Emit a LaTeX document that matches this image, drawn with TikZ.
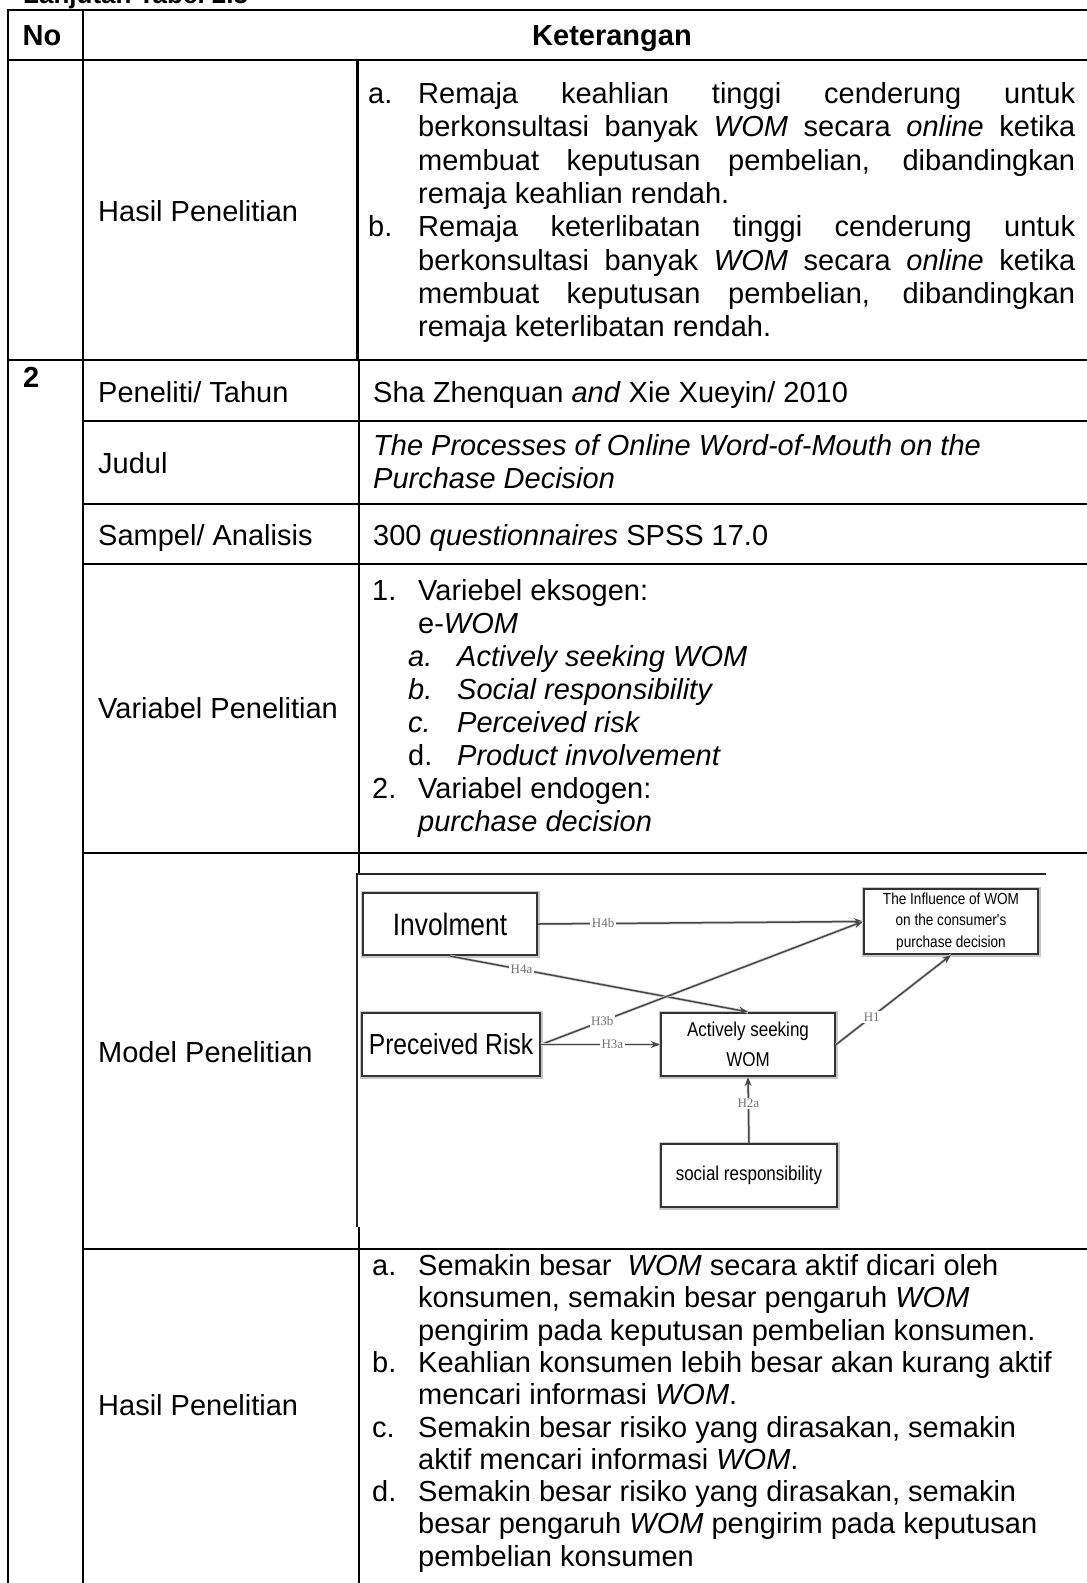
\documentclass[tikz,border=0pt]{standalone}
\usepackage{fontspec}
\setmainfont{Liberation Sans}
\newfontfamily\narrowfont[FakeStretch=0.85]{Liberation Sans}
\newfontfamily\hlabelfont{Liberation Serif}
\usetikzlibrary{arrows.meta}

\tikzset{
  grid/.style={line width=2.6pt, black},
  thinframe/.style={line width=1.3pt, black!85},
  txt/.style={anchor=base west, inner sep=0pt, font=\fontsize{29}{33}\selectfont},
  hd/.style={anchor=base, inner sep=0pt, font=\fontsize{29}{33}\selectfont\bfseries},
  mbox/.style={draw=black!80, line width=2.2pt, fill=white, inner sep=0pt, align=center,
               preaction={draw=black!22, line width=5pt}},
  arr/.style={draw=black!72, line width=1.5pt, -{Stealth[length=9pt,width=7pt]},
              preaction={draw=black!15, line width=3pt, -}},
  hlab/.style={font=\hlabelfont\fontsize{13}{13}\selectfont, text=black!55, fill=white, inner sep=1.5pt}
}
\newcommand{\justline}[1]{\makebox[657pt][s]{#1}}

\begin{document}
\begin{tikzpicture}[x=1pt,y=-1pt]
\useasboundingbox (0,0) rectangle (1087,1583);
\fill[white] (0,0) rectangle (1087,1583);

% caption running off the top edge
\node[anchor=base west, inner sep=0pt, font=\fontsize{26}{30}\selectfont\bfseries] (ttl) at (23,3) {Lanjutan Tabel 2.3};

% ---------- table rules ----------
\draw[grid] (1092,10) -- (8,10) -- (8,1590);
\draw[grid] (83,10) -- (83,1590);
\draw[grid] (8,60) -- (1092,60);
\draw[grid] (357.5,60) -- (357.5,360);
\draw[grid] (8,360) -- (1092,360);
\draw[grid] (83,421) -- (1092,421);
\draw[grid] (83,504) -- (1092,504);
\draw[grid] (83,564) -- (1092,564);
\draw[grid] (83,853) -- (1092,853);
\draw[grid] (83,1249) -- (1092,1249);
\draw[grid] (359,360) -- (359,874);
\draw[grid] (359,1227) -- (359,1590);

% ---------- header ----------
\node[hd] (hno) at (42,45) {No};
\node[hd] (hket) at (612,45) {Keterangan};

% ---------- row 1: Hasil Penelitian ----------
\node[txt] (h1lab) at (98,221) {Hasil Penelitian};
\node[txt] (h1a) at (368,103) {a.};
\node[txt] (h1a1) at (418,103) {\justline{Remaja keahlian tinggi cenderung untuk}};
\node[txt] (h1a2) at (418,136) {\justline{berkonsultasi banyak \textit{WOM} secara \textit{online} ketika}};
\node[txt] (h1a3) at (418,170) {\justline{membuat keputusan pembelian, dibandingkan}};
\node[txt] (h1a4) at (418,203) {remaja keahlian rendah.};
\node[txt] (h1b) at (368,236) {b.};
\node[txt] (h1b1) at (418,236) {\justline{Remaja keterlibatan tinggi cenderung untuk}};
\node[txt] (h1b2) at (418,270) {\justline{berkonsultasi banyak \textit{WOM} secara \textit{online} ketika}};
\node[txt] (h1b3) at (418,303) {\justline{membuat keputusan pembelian, dibandingkan}};
\node[txt] (h1b4) at (418,336) {remaja keterlibatan rendah.};

% ---------- row 2 ----------
\node[anchor=base west, inner sep=0pt, font=\fontsize{29}{33}\selectfont\bfseries] (n2) at (23,387) {2};

\node[txt] (plab) at (98,402) {Peneliti/ Tahun};
\node[txt] (pval) at (373,402) {Sha Zhenquan \textit{and} Xie Xueyin/ 2010};

\node[txt] (jlab) at (98,473) {Judul};
\node[txt] (jval1) at (373,455) {\textit{The Processes of Online Word-of-Mouth on the}};
\node[txt] (jval2) at (373,488) {\textit{Purchase Decision}};

\node[txt] (slab) at (98,545) {Sampel/ Analisis};
\node[txt] (sval) at (373,545) {300 \textit{questionnaires} SPSS 17.0};

\node[txt] (vlab) at (98,718) {Variabel Penelitian};
\node[txt] (v1n) at (372,600) {1.};
\node[txt] (v1) at (418,600) {Variebel eksogen:};
\node[txt] (v1e) at (418,633) {e-\textit{WOM}};
\node[txt] (van) at (408,666) {\textit{a.}};
\node[txt] (va) at (457,666) {\textit{Actively seeking WOM}};
\node[txt] (vbn) at (408,699) {\textit{b.}};
\node[txt] (vb) at (457,699) {\textit{Social responsibility}};
\node[txt] (vcn) at (408,732) {\textit{c.}};
\node[txt] (vc) at (457,732) {\textit{Perceived risk}};
\node[txt] (vdn) at (408,765) {d.};
\node[txt] (vd) at (457,765) {\textit{Product involvement}};
\node[txt] (v2n) at (372,798) {2.};
\node[txt] (v2) at (418,798) {Variabel endogen:};
\node[txt] (v2e) at (418,831) {\textit{purchase decision}};

\node[txt] (mlab) at (98,1062) {Model Penelitian};

% ---------- research model ----------
\draw[thinframe] (1046,874) -- (357,874) -- (357,1227);

\node[mbox, minimum width=174pt, minimum height=62pt,
      font=\narrowfont\fontsize{31}{31}\selectfont] (invol) at (450,924) {Involment};
\node[mbox, minimum width=174pt, minimum height=65pt,
      font=\narrowfont\fontsize{16}{21.5}\selectfont] (infl) at (951,921.5)
      {The Influence of WOM\\on the consumer's\\purchase decision};
\node[mbox, minimum width=178pt, minimum height=63pt,
      font=\narrowfont\fontsize{29}{29}\selectfont] (risk) at (451,1044.5) {Preceived Risk};
\node[mbox, minimum width=174pt, minimum height=63pt,
      font=\narrowfont\fontsize{20}{30}\selectfont] (active) at (748,1044.5) {Actively seeking\\WOM};
\node[mbox, minimum width=176pt, minimum height=63pt,
      font=\narrowfont\fontsize{20}{24}\selectfont] (social) at (749,1175.5) {social responsibility};

\draw[arr] (invol.east) -- node[hlab, pos=0.2] (l4b) {H4b} (infl.west);
\draw[arr] (invol.south) -- node[hlab, pos=0.24] (l4a) {H4a} (active.north);
\draw[arr] (risk.east) -- node[hlab, pos=0.19] (l3b) {H3b} (infl.west);
\draw[arr] (risk.east) -- node[hlab, pos=0.6] (l3a) {H3a} (active.west);
\draw[arr] (social.north) -- node[hlab, pos=0.6] (l2a) {H2a} (active.south);
\draw[arr] (active.east) -- node[hlab, pos=0.31] (l1) {H1} (infl.south);

% ---------- row 2: Hasil Penelitian ----------
\node[txt] (h2lab) at (98,1415) {Hasil Penelitian};
\node[txt] (h2a) at (372,1275) {a.};
\node[txt] (h2a1) at (418,1275) {Semakin besar\ \ \textit{WOM} secara aktif dicari oleh};
\node[txt] (h2a2) at (418,1307) {konsumen, semakin besar pengaruh \textit{WOM}};
\node[txt] (h2a3) at (418,1340) {pengirim pada keputusan pembelian konsumen.};
\node[txt] (h2b) at (372,1372) {b.};
\node[txt] (h2b1) at (418,1372) {Keahlian konsumen lebih besar akan kurang aktif};
\node[txt] (h2b2) at (418,1404) {mencari informasi \textit{WOM}.};
\node[txt] (h2c) at (372,1437) {c.};
\node[txt] (h2c1) at (418,1437) {Semakin besar risiko yang dirasakan, semakin};
\node[txt] (h2c2) at (418,1469) {aktif mencari informasi \textit{WOM}.};
\node[txt] (h2d) at (372,1501) {d.};
\node[txt] (h2d1) at (418,1501) {Semakin besar risiko yang dirasakan, semakin};
\node[txt] (h2d2) at (418,1533) {besar pengaruh \textit{WOM} pengirim pada keputusan};
\node[txt] (h2d3) at (418,1566) {pembelian konsumen};
\end{tikzpicture}
\end{document}
